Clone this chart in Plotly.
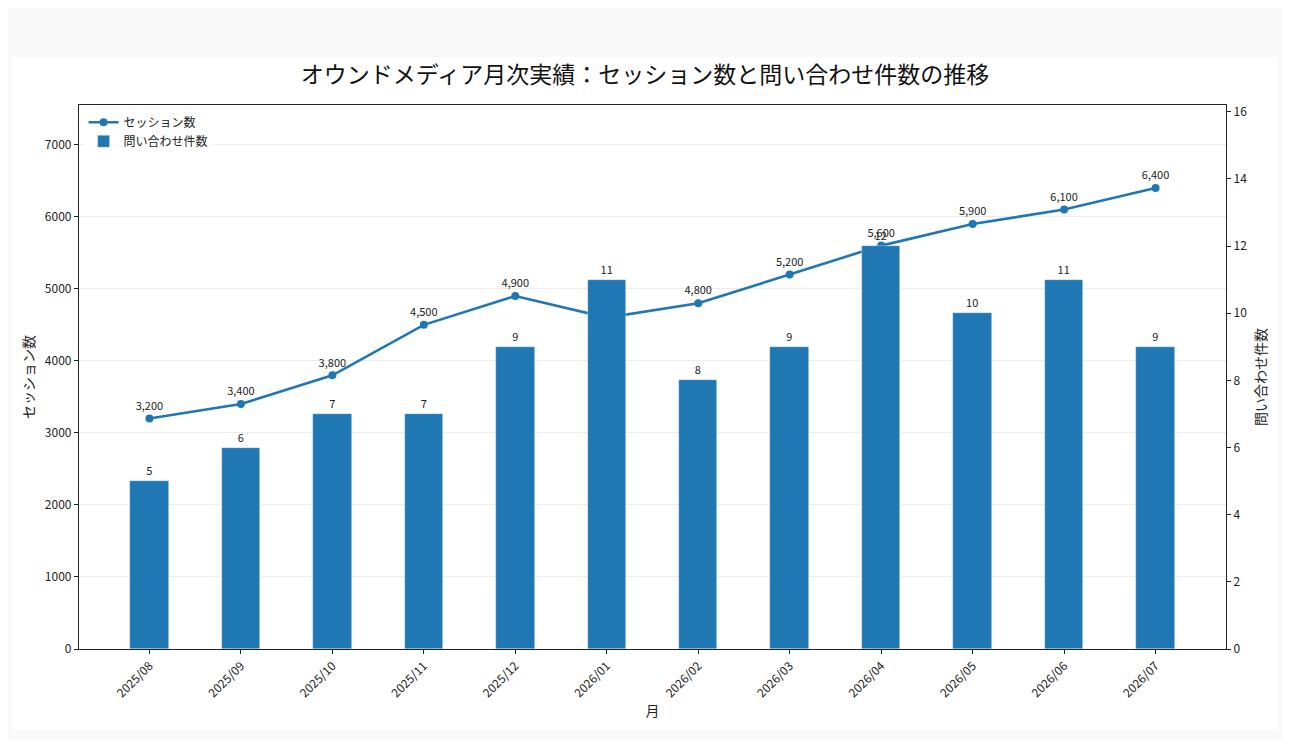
import plotly.graph_objects as go

months = ["2025/08", "2025/09", "2025/10", "2025/11", "2025/12", "2026/01",
          "2026/02", "2026/03", "2026/04", "2026/05", "2026/06", "2026/07"]
sessions = [3200, 3400, 3800, 4500, 4900, 4600, 4800, 5200, 5600, 5900, 6100, 6400]
inquiries = [5, 6, 7, 7, 9, 11, 8, 9, 12, 10, 11, 9]

title = "オウンドメディア月次実績：セッション数と問い合わせ件数の推移"
FONT = "Noto Sans CJK JP"
BLUE = "#1f77b4"

OFF = 8  # page body margin
W, H = 1290 - 2 * OFF, 748 - 2 * OFF
L, R, T, B = 79 - OFF, 1226 - OFF, 105 - OFF, 649 - OFF
pw, ph = R - L, B - T

def px(x):
    return (x - OFF - L) / pw

def py(y):
    return (B - (y - OFF)) / ph

fig = go.Figure()

fig.add_trace(go.Scatter(
    x=months, y=sessions, name="セッション数", mode="lines+markers+text",
    line=dict(color=BLUE, width=2.6), marker=dict(color=BLUE, size=8),
    text=[f"{v:,}" for v in sessions], textposition="top center",
    textfont=dict(family=FONT, size=11, color="#222"),
    cliponaxis=False, yaxis="y",
))

fig.add_trace(go.Bar(
    x=months, y=inquiries, name="問い合わせ件数", yaxis="y2",
    marker=dict(color=BLUE, line=dict(color="rgba(255,255,255,0.6)", width=0.6)),
    width=0.42, text=[str(v) for v in inquiries], textposition="outside",
    textfont=dict(family=FONT, size=11, color="#222"), cliponaxis=False,
))

fig.add_shape(type="rect", xref="paper", yref="paper", layer="below",
              x0=px(12), x1=px(1278), y0=py(730), y1=py(57),
              fillcolor="white", line=dict(width=0))

fig.update_layout(
    width=W, height=H,
    margin=dict(l=L, r=W - R, t=T, b=H - B, pad=0),
    paper_bgcolor="#f9f9f9", plot_bgcolor="white",
    font=dict(family=FONT, size=12, color="#222"),
    title=dict(text=title, x=0.5, xanchor="center", y=1 - (75 - OFF) / H, yanchor="middle",
               font=dict(family=FONT, size=23, color="#111")),
    showlegend=True,
    legend=dict(x=0.004, y=0.995, xanchor="left", yanchor="top",
                bgcolor="rgba(255,255,255,0.8)", font=dict(family=FONT, size=12),
                itemwidth=30, tracegroupgap=2),
    bargap=0,
    xaxis=dict(type="category", range=[-0.77, 11.77], tickangle=-45,
               showline=True, linecolor="#222", linewidth=1.2, mirror=True,
               ticks="outside", ticklen=4, tickcolor="#222", showgrid=False,
               tickfont=dict(size=12),
               title=dict(text="月", font=dict(size=14), standoff=6)),
    yaxis=dict(range=[0, 7552], dtick=1000, tickformat="d",
               showline=True, linecolor="#222", linewidth=1.2,
               ticks="outside", ticklen=4, tickcolor="#222",
               showgrid=True, gridcolor="#ececec", gridwidth=1, zeroline=False,
               tickfont=dict(size=12),
               title=dict(text="セッション数", font=dict(size=14), standoff=6)),
    yaxis2=dict(range=[0, 16.2], dtick=2, overlaying="y", side="right",
                showline=True, linecolor="#222", linewidth=1.2,
                ticks="outside", ticklen=4, tickcolor="#222",
                showgrid=False, zeroline=False, tickfont=dict(size=12),
                title=dict(text="問い合わせ件数", font=dict(size=14), standoff=10)),
)

fig.write_html("out.html")
